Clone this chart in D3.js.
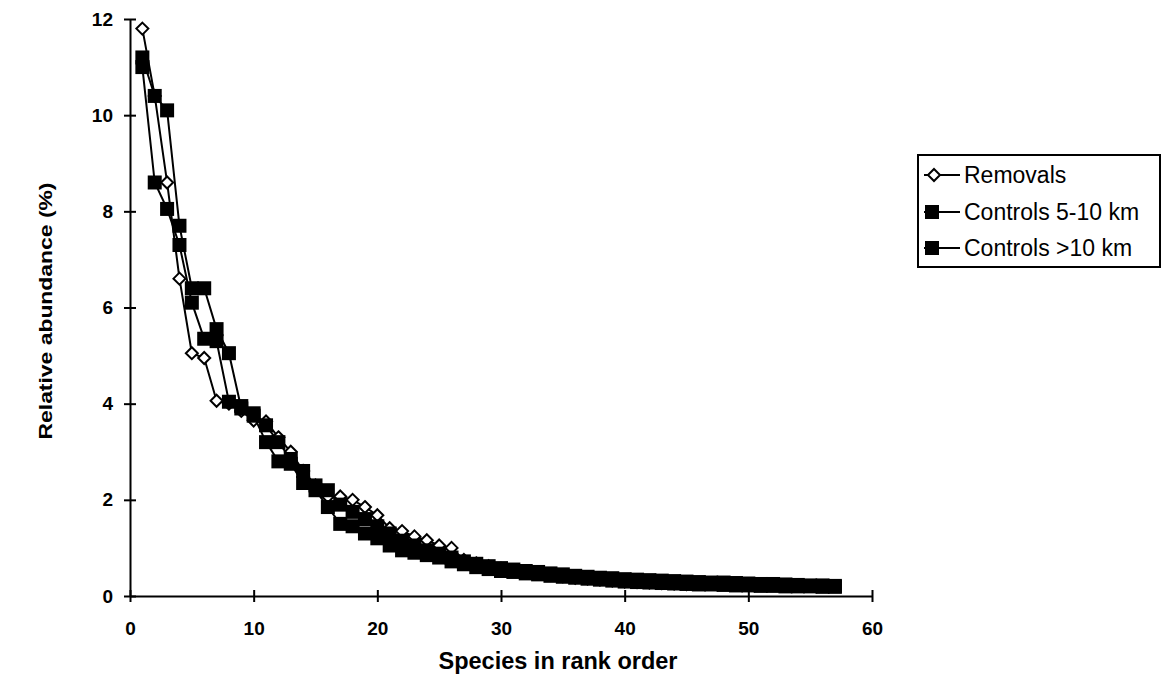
<!DOCTYPE html>
<html>
<head>
<meta charset="utf-8">
<script src="https://cdn.jsdelivr.net/npm/d3@7"></script>
<style>
  body { margin: 0; background: #fff; }
  text { font-family: "Liberation Sans", Arial, sans-serif; fill: #000; }
</style>
</head>
<body>
<div id="chart-area"></div>
<script>
// species rank on the x axis, relative abundance (%) on the y axis
var removals = [11.8, 10.4, 8.6, 6.6, 5.05, 4.95, 4.06, 4.0, 3.85, 3.65,
    3.63, 3.3, 3.0, 2.6, 2.3, 2.07, 2.07, 2.0, 1.85, 1.68,
    1.41, 1.35, 1.24, 1.16, 1.05, 1.0, 0.75, 0.68, 0.62, 0.57,
    0.53, 0.5, 0.47, 0.44, 0.41, 0.38, 0.36, 0.34, 0.32, 0.3,
    0.29, 0.28, 0.27, 0.26, 0.25];
var controls5to10 = [11.2, 10.4, 10.1, 7.7, 6.4, 6.4, 5.55, 5.05, 3.9, 3.8,
    3.55, 3.2, 2.85, 2.6, 2.3, 2.2, 1.9, 1.75, 1.6, 1.45,
    1.3, 1.15, 1.05, 0.95, 0.88, 0.8, 0.72, 0.67, 0.62, 0.58,
    0.55, 0.52, 0.5, 0.47, 0.45, 0.42, 0.4, 0.38, 0.37, 0.35,
    0.34, 0.33, 0.32, 0.31, 0.3, 0.29, 0.28, 0.28, 0.27, 0.26,
    0.25, 0.25, 0.24, 0.23, 0.22, 0.22, 0.21];
var controlsOver10 = [11.0, 8.6, 8.05, 7.3, 6.1, 5.35, 5.3, 4.04, 3.95, 3.75,
    3.2, 2.8, 2.75, 2.35, 2.2, 1.85, 1.5, 1.45, 1.3, 1.2,
    1.05, 0.95, 0.9, 0.85, 0.8, 0.72, 0.66, 0.6, 0.56, 0.52,
    0.5, 0.47, 0.45, 0.42, 0.4, 0.38, 0.36, 0.34, 0.32, 0.3,
    0.29, 0.28, 0.27, 0.26, 0.25, 0.24, 0.24, 0.23, 0.22, 0.22,
    0.21, 0.21, 0.2, 0.2, 0.2, 0.19, 0.19];
var seriesNames = ["Removals", "Controls 5-10 km", "Controls >10 km"];
var xTicks = [0, 10, 20, 30, 40, 50, 60];
var yTicks = [0, 2, 4, 6, 8, 10, 12];

var svg = d3.select("#chart-area").append("svg")
    .attr("width", 1166)
    .attr("height", 690);

var x = d3.scaleLinear().domain([0, 60]).range([130, 872]);
var y = d3.scaleLinear().domain([0, 12]).range([596, 19]);

// axes: ticks cross the axis line like the old Excel plot
var xAxis = svg.append("g").attr("transform", "translate(0,596)")
    .call(d3.axisBottom(x).tickValues(xTicks).tickSize(0).tickPadding(26));
xAxis.select(".domain").attr("stroke", "#000").attr("stroke-width", 2);
xAxis.selectAll("text").attr("font-size", 19).attr("font-weight", "bold");
xAxis.selectAll(".tick").append("line")
    .attr("y1", -6).attr("y2", 6).attr("stroke", "#000").attr("stroke-width", 2);

var yAxis = svg.append("g").attr("transform", "translate(130,0)")
    .call(d3.axisLeft(y).tickValues(yTicks).tickSize(0).tickPadding(17));
yAxis.select(".domain").attr("stroke", "#000").attr("stroke-width", 2);
yAxis.selectAll("text").attr("font-size", 19).attr("font-weight", "bold");
yAxis.selectAll(".tick").append("line")
    .attr("x1", -6).attr("x2", 6).attr("stroke", "#000").attr("stroke-width", 2);

svg.append("text")
    .attr("x", 558).attr("y", 669)
    .attr("text-anchor", "middle")
    .attr("font-size", 23.5).attr("font-weight", "bold")
    .text("Species in rank order");

svg.append("text")
    .attr("transform", "translate(52,311) rotate(-90)")
    .attr("text-anchor", "middle")
    .attr("font-size", 19).attr("font-weight", "bold")
    .attr("textLength", 257).attr("lengthAdjust", "spacingAndGlyphs")
    .text("Relative abundance (%)");

var line = d3.line()
    .x(function(d, i) { return x(i + 1); })
    .y(function(d) { return y(d); });

function diamond(g, cx, cy) {
    g.append("path")
        .attr("d", "M" + cx + "," + (cy - 6) + "L" + (cx + 6) + "," + cy +
            "L" + cx + "," + (cy + 6) + "L" + (cx - 6) + "," + cy + "Z")
        .attr("fill", "#fff").attr("stroke", "#000").attr("stroke-width", 2);
}

function square(g, cx, cy) {
    g.append("rect")
        .attr("x", cx - 7).attr("y", cy - 7)
        .attr("width", 14).attr("height", 14)
        .attr("fill", "#000");
}

var allSeries = [removals, controls5to10, controlsOver10];

allSeries.forEach(function(data, k) {
    var g = svg.append("g");
    g.append("path")
        .attr("d", line(data))
        .attr("fill", "none").attr("stroke", "#000").attr("stroke-width", 2);
    data.forEach(function(d, i) {
        if (k == 0) {
            diamond(g, x(i + 1), y(d));
        } else {
            square(g, x(i + 1), y(d));
        }
    });
});

// legend
var legend = svg.append("g");
legend.append("rect")
    .attr("x", 918).attr("y", 155)
    .attr("width", 242).attr("height", 112)
    .attr("fill", "#fff").attr("stroke", "#000").attr("stroke-width", 2);

var rowY = [175, 212, 248];
seriesNames.forEach(function(name, k) {
    legend.append("line")
        .attr("x1", 924).attr("x2", 960)
        .attr("y1", rowY[k]).attr("y2", rowY[k])
        .attr("stroke", "#000").attr("stroke-width", 2);
    if (k == 0) {
        diamond(legend, 934, rowY[k]);
    } else {
        square(legend, 932, rowY[k]);
    }
    legend.append("text")
        .attr("x", 964).attr("y", rowY[k] + 8)
        .attr("font-size", 23)
        .text(name);
});
</script>
</body>
</html>
